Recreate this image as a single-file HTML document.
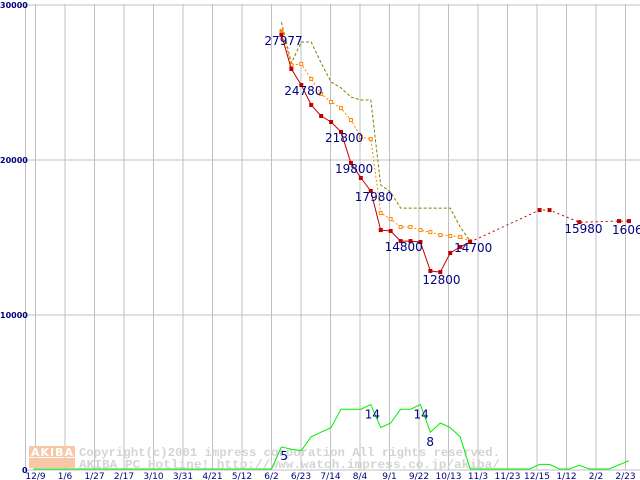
<!DOCTYPE html>
<html><head><meta charset="utf-8"><style>
html,body{margin:0;padding:0;background:#fff;}
svg{display:block;font-family:"DejaVu Sans","Liberation Sans",sans-serif;}
</style></head><body>
<svg id="chart" width="640" height="480" viewBox="0 0 640 480" xmlns="http://www.w3.org/2000/svg">
<g id="grid"></g>
<g id="watermark">
 <rect x="29" y="446" width="46" height="11" fill="#f7c8a8"/>
 <rect x="29" y="458" width="46" height="10" fill="#f7c8a8"/>
 <text x="31" y="456" font-size="11" font-weight="bold" fill="#fff" textLength="42">AKIBA</text>
 <text x="79" y="456" font-size="12" font-weight="bold" fill="#d4d4d4" font-family="Liberation Mono, monospace" textLength="421" lengthAdjust="spacingAndGlyphs">Copyright(c)2001 impress corporation All rights reserved.</text>
 <text x="79" y="468" font-size="12" font-weight="bold" fill="#d4d4d4" font-family="Liberation Mono, monospace" textLength="421" lengthAdjust="spacingAndGlyphs">AKIBA PC Hotline!  http://www.watch.impress.co.jp/akiba/</text>
</g>
<g id="series"></g>
<g id="labels"></g>
</svg>
<script>
const xTickLabels = ["12/9","1/6","1/27","2/17","3/10","3/31","4/21","5/12","6/2","6/23","7/14","8/4","9/1","9/22","10/13","11/3","11/23","12/15","1/12","2/2","2/23"];
const yTickValues = [0,10000,20000,30000];
// weeks relative to 6/2
const redWeeks = [1,2,3,4,5,6,7,8,9,10,11,12,13,14,15,16,17,18,19,20];
const redValues = [28065,25870,24840,23550,22840,22450,21810,19810,18840,18000,15480,15420,14770,14770,14710,12840,12770,14000,14390,14710];
const redDashWeeks = [20,27,28,31,35,36];
const redDashValues = [14710,16770,16770,15990,16060,16060];
const orangeWeeks = [1,2,3,4,5,6,7,8,9,10,11,12,13,14,15,16,17,18,19,20];
const orangeValues = [28320,26130,26190,25230,24260,23740,23350,22580,21480,21350,16580,16190,15680,15680,15480,15350,15160,15100,15030,14770];
const oliveWeeks = [1,2,3,4,5,6,7,8,9,10,11,12,13,14,15,16,17,18,19,20];
const oliveValues = [28900,26260,27610,27610,26260,25030,24650,24060,23870,23870,18390,17930,16900,16900,16900,16900,16900,16900,15680,14770];
const greenWeeks = [-24,0,1,2,3,4,5,6,7,8,9,10,11,12,13,14,15,16,17,18,19,20,21,26,27,28,29,30,31,32,33,34,36];
const greenValues = [0,0,4.8,4.3,4,7,8,9,13,13,13,14,9,10,13,13,14,8,10,9,7,0,0,0,1,1,0,0,0.8,0,0,0,1.8];
const priceLabels = [["27977",1,28065,-17,10],["24780",3,24840,-17,10],["21800",7,21810,-16,10],["19800",8,19810,-16,10],["17980",10,18000,-16,10],["14800",13,14770,-16,10],["12800",16,12840,-8,13],["14700",20,14710,-16,10],["15980",31,15990,-15,11],["16060",35,16060,-7,13]];
const countLabels = [["5",1,4.8,-1,13],["14",10,14,-6,14],["14",15,14,-7,14],["8",16,8,-4,14]];

const NS="http://www.w3.org/2000/svg";
const x0=271.5, wk=9.93, gridStep=29.5, gridStart=35.5;
const xw = w => x0 + w*wk;
const yv = v => 470 - v*0.0155;
const yc = c => 469 - c*4.6;
function mk(tag, attrs, parent){const e=document.createElementNS(NS,tag);for(const k in attrs)e.setAttribute(k,attrs[k]);parent.appendChild(e);return e;}
const grid=document.getElementById('grid'), series=document.getElementById('series'), labels=document.getElementById('labels');

let ax=mk('line',{x1:25.5,y1:4,x2:25.5,y2:470,stroke:'#c0c0c0','stroke-width':1},grid);


xTickLabels.forEach((lab,i)=>{
  const x=gridStart+i*gridStep;
  const l=mk('line',{x1:x,y1:4,x2:x,y2:470,stroke:'#c0c0c0','stroke-width':1},grid);
  
  
  const t=mk('text',{x:x,y:479,'font-size':9,'text-anchor':'middle',fill:'#000080'},labels);
  t.textContent=lab;
  
  
});
yTickValues.forEach(v=>{
  const y=yv(v);
  if(v>0){const l=mk('line',{x1:25.5,y1:y,x2:640,y2:y,stroke:'#c0c0c0','stroke-width':1},grid);
  
  }
  const t=mk('text',{x:v?0:22,y:y+3,'font-size':8,fill:'#000080','font-weight':'bold'},labels);
  t.textContent=String(v);
  
  
});
const baseLine=mk('line',{x1:25.5,y1:470,x2:640,y2:470,stroke:'#c0c0c0'},grid);



function poly(ws,vs,fy,attrs,name){
  const pts=ws.map((w,i)=>xw(w).toFixed(1)+','+fy(vs[i]).toFixed(1)).join(' ');
  const p=mk('polyline',Object.assign({points:pts,fill:'none'},attrs),series);
  
  
}
poly(greenWeeks,greenValues,yc,{stroke:'#00ee00','stroke-width':1},'count-line');
poly(oliveWeeks,oliveValues,yv,{stroke:'#808000','stroke-width':1,'stroke-dasharray':'3,2'},'max-price-line');
poly(orangeWeeks,orangeValues,yv,{stroke:'#ff8800','stroke-width':1,'stroke-dasharray':'2,2'},'avg-price-line');
orangeWeeks.forEach((w,i)=>{
  const r=mk('rect',{x:xw(w)-1.5,y:yv(orangeValues[i])-1.5,width:3,height:3,fill:i==0?'#ff8800':'#fff',stroke:'#ff8800','stroke-width':1},series);
  
  
});
poly(redDashWeeks,redDashValues,yv,{stroke:'#c00000','stroke-width':1,'stroke-dasharray':'2,3'},'min-price-dashed-line');
poly(redWeeks,redValues,yv,{stroke:'#c00000','stroke-width':1},'min-price-line');
redWeeks.concat(redDashWeeks.slice(1)).forEach((w,i)=>{
  const v=i<redWeeks.length?redValues[i]:redDashValues[i-redWeeks.length+1];
  const r=mk('rect',{x:xw(w)-2,y:yv(v)-2,width:4,height:4,fill:'#c00000'},series);
  
  
});
priceLabels.forEach(([t,w,v,dx,dy])=>{
  const e=mk('text',{x:xw(w)+dx,y:yv(v)+dy,'font-size':12,fill:'#000080'},labels);
  e.textContent=t;
  
  
});
countLabels.forEach(([t,w,v,dx,dy])=>{
  const e=mk('text',{x:xw(w)+dx,y:yc(v)+dy,'font-size':12,fill:'#000080'},labels);
  e.textContent=t;
  
  
});
</script>
</body></html>
